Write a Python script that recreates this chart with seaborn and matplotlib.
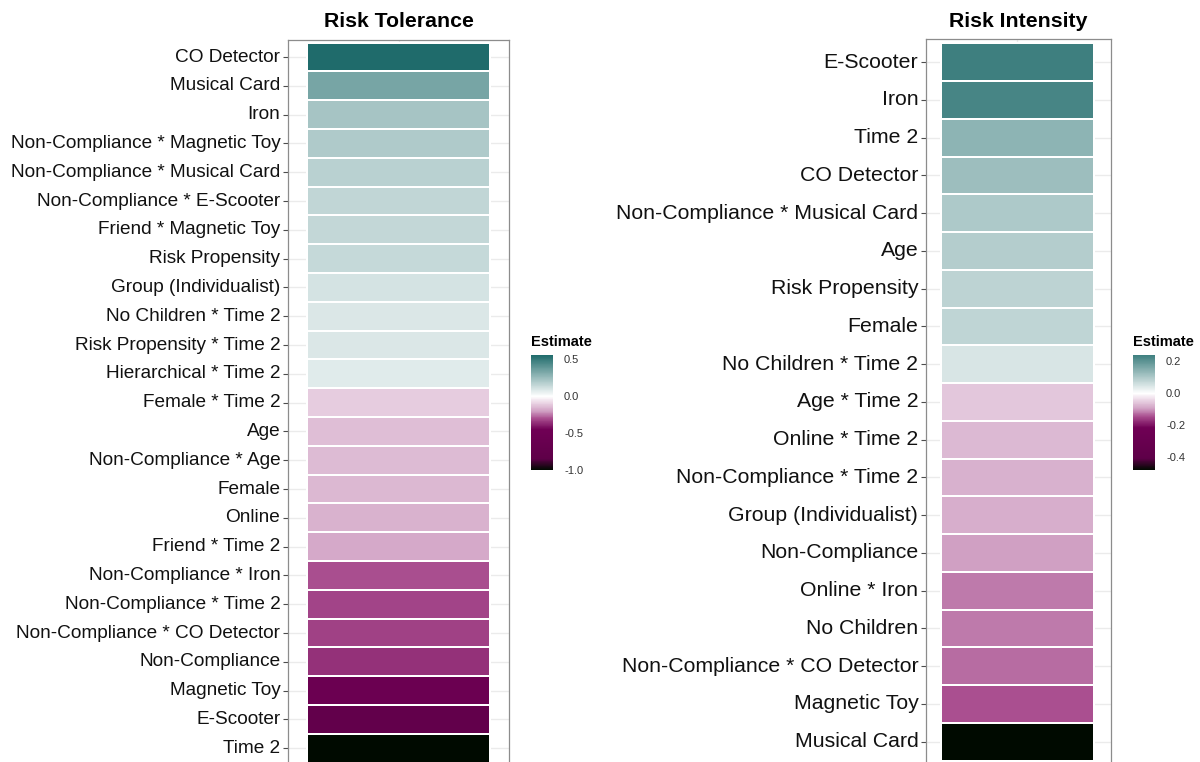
import numpy as np
import pandas as pd
import matplotlib
matplotlib.use("Agg")
import matplotlib.pyplot as plt
import seaborn as sns
from matplotlib.colors import LinearSegmentedColormap, Normalize

# ---------------- data ----------------
tol_terms = [
    "CO Detector", "Musical Card", "Iron", "Non-Compliance * Magnetic Toy",
    "Non-Compliance * Musical Card", "Non-Compliance * E-Scooter",
    "Friend * Magnetic Toy", "Risk Propensity", "Group (Individualist)",
    "No Children * Time 2", "Risk Propensity * Time 2", "Hierarchical * Time 2",
    "Female * Time 2", "Age", "Non-Compliance * Age", "Female", "Online",
    "Friend * Time 2", "Non-Compliance * Iron", "Non-Compliance * Time 2",
    "Non-Compliance * CO Detector", "Non-Compliance", "Magnetic Toy",
    "E-Scooter", "Time 2",
]
tol_est = [
    0.56, 0.34, 0.22, 0.197, 0.174, 0.157, 0.146, 0.14, 0.104, 0.087, 0.085,
    0.077, -0.11, -0.14, -0.145, -0.15, -0.16, -0.18, -0.30, -0.32, -0.325,
    -0.355, -0.56, -0.76, -1.0,
]
tol_ticks = [0.5, 0.0, -0.5, -1.0]
tol_ticklabels = ["0.5", "0.0", "-0.5", "-1.0"]

int_terms = [
    "E-Scooter", "Iron", "Time 2", "CO Detector", "Non-Compliance * Musical Card",
    "Age", "Risk Propensity", "Female", "No Children * Time 2", "Age * Time 2",
    "Online * Time 2", "Non-Compliance * Time 2", "Group (Individualist)",
    "Non-Compliance", "Online * Iron", "No Children",
    "Non-Compliance * CO Detector", "Magnetic Toy", "Musical Card",
]
int_est = [
    0.24, 0.226, 0.14, 0.12, 0.10, 0.092, 0.082, 0.079, 0.048, -0.058, -0.07,
    -0.079, -0.083, -0.096, -0.118, -0.12, -0.127, -0.144, -0.48,
]
int_ticks = [0.2, 0.0, -0.2, -0.4]
int_ticklabels = ["0.2", "0.0", "-0.2", "-0.4"]

FONT = "Liberation Sans"
W, H = 1200, 762


def build_cmap(vmin, vmax, high):
    neg = [(1.0, "#000a00"), (0.85, "#5e0048"), (0.45, "#700055"),
           (0.30, "#aa4f90"), (0.20, "#d0a0c3"), (0.0, "#ffffff")]
    nodes = []
    for t, c in neg:
        v = t * vmin
        nodes.append(((v - vmin) / (vmax - vmin), c))
    nodes.append((1.0, high))
    return LinearSegmentedColormap.from_list("est", nodes)


def px_axes(fig, x0, x1, y0, y1):
    return fig.add_axes([x0 / W, 1 - y1 / H, (x1 - x0) / W, (y1 - y0) / H])


def panel(fig, terms, est, vmin, vmax, high, ax_box, tile_box, cax_box,
          title, lab_size, ticks, ticklabels):
    x0, x1, y0, y1 = ax_box
    tx0, tx1, ty0, ty1 = tile_box
    ax = px_axes(fig, x0, x1, y0, y1)
    cax = px_axes(fig, *cax_box)
    df = pd.DataFrame({"Estimate": est}, index=terms)
    cmap = build_cmap(vmin, vmax, high)
    sns.heatmap(df, ax=ax, cmap=cmap, vmin=vmin, vmax=vmax, cbar_ax=cax,
                linewidths=1.3, linecolor="white", xticklabels=False,
                yticklabels=True)
    n = len(terms)
    rowh = (ty1 - ty0) / n
    colw = tx1 - tx0
    ax.set_ylim(n + (y1 - ty1) / rowh, -(ty0 - y0) / rowh)
    ax.set_xlim(-(tx0 - x0) / colw, 1 + (x1 - tx1) / colw)
    ax.set_axisbelow(True)
    ax.grid(axis="y", color="#ebebeb", linewidth=1.0, zorder=0)
    ax.axvline(0.5, color="#ebebeb", linewidth=1.0, zorder=0)
    for s in ax.spines.values():
        s.set_visible(True)
        s.set_color("#8c8c8c")
        s.set_linewidth(0.9)
    ax.set_xlabel("")
    ax.set_ylabel("")
    ax.tick_params(axis="y", length=3.5, width=0.8, color="#4d4d4d", pad=2,
                   left=True)
    ax.tick_params(axis="x", length=0)
    for lab in ax.get_yticklabels():
        lab.set_rotation(0)
        lab.set_fontsize(lab_size)
        lab.set_fontfamily(FONT)
        lab.set_color("#111111")
    ax.set_title(title, fontsize=15.3, fontweight="bold", family=FONT, pad=9,
                 color="black")
    # colorbar
    cax.set_yticks(ticks)
    cax.set_yticklabels(ticklabels, fontsize=8, family=FONT, color="#333333")
    cax.tick_params(axis="y", direction="in", length=4, width=0.8,
                    color="white", left=True, right=True, pad=8)
    for s in cax.spines.values():
        s.set_visible(False)
    cbx0, cbx1, cby0, cby1 = cax_box
    fig.text(cbx0 / W, 1 - (cby0 - 9) / H, "Estimate", fontsize=10.5,
             fontweight="bold", family=FONT, ha="left", va="baseline",
             color="black")
    return ax


sns.set_theme(style="white")
plt.rcParams["font.family"] = [FONT, "DejaVu Sans"]
fig = plt.figure(figsize=(W / 100, H / 100), dpi=100)

panel(fig, tol_terms, tol_est, -1.0, 0.56, "#1f6b6b",
      (288, 509, 39.5, 765.8), (307, 490, 42.6, 762.6), (531, 553, 355, 470),
      "Risk Tolerance", 13.65, tol_ticks, tol_ticklabels)
panel(fig, int_terms, int_est, -0.48, 0.24, "#3e7f7f",
      (926, 1111, 39.5, 764.5), (941, 1094, 43.3, 760.5), (1133, 1155, 355, 470),
      "Risk Intensity", 15.35, int_ticks, int_ticklabels)

fig.savefig("out.png", dpi=100)
